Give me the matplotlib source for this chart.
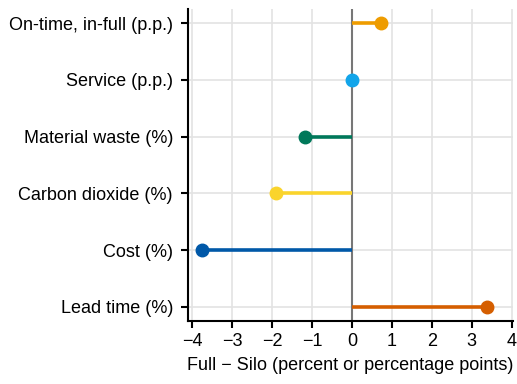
import matplotlib.pyplot as plt

plt.rcParams['font.family'] = ['Liberation Sans', 'DejaVu Sans']

metrics = ["On-time, in-full (p.p.)", "Service (p.p.)", "Material waste (%)",
           "Carbon dioxide (%)", "Cost (%)", "Lead time (%)"]
diffs = [0.72, 0.0, -1.18, -1.9, -3.75, 3.37]
colors = ["#EE9C00", "#12A5EA", "#00785A", "#FAD42C", "#0058A8", "#D55E00"]

fig = plt.figure(figsize=(5.17, 3.84), dpi=100)
ax = fig.add_axes([0.364, 0.164, 0.628, 0.813])

ypos = list(range(len(metrics)))[::-1]
ax.axvline(0, color="#777777", lw=1.5, zorder=2)
for y, d, c in zip(ypos, diffs, colors):
    ax.plot([0, d], [y, y], color=c, lw=2.6, solid_capstyle="butt", zorder=3)
    ax.plot(d, y, "o", color=c, ms=9, zorder=4)

ax.set_yticks(ypos)
ax.set_yticklabels(metrics)
ax.set_xticks(range(-4, 5))
ax.set_xticklabels([f"{v}".replace("-", "\u2212") for v in range(-4, 5)])
ax.set_xlim(-4.1, 4.03)
ax.set_ylim(-0.25, 5.25)
ax.set_xlabel("Full \u2212 Silo (percent or percentage points)", fontsize=13, labelpad=5)

ax.grid(True, color="#e3e3e3", lw=1.2)
ax.set_axisbelow(True)
for side in ("top", "right"):
    ax.spines[side].set_visible(False)
for side in ("left", "bottom"):
    ax.spines[side].set_linewidth(1.5)
ax.tick_params(labelsize=13, width=1.5, length=5, colors="black")
ax.tick_params(axis="y", pad=6)

fig.savefig("out.png", dpi=100)
